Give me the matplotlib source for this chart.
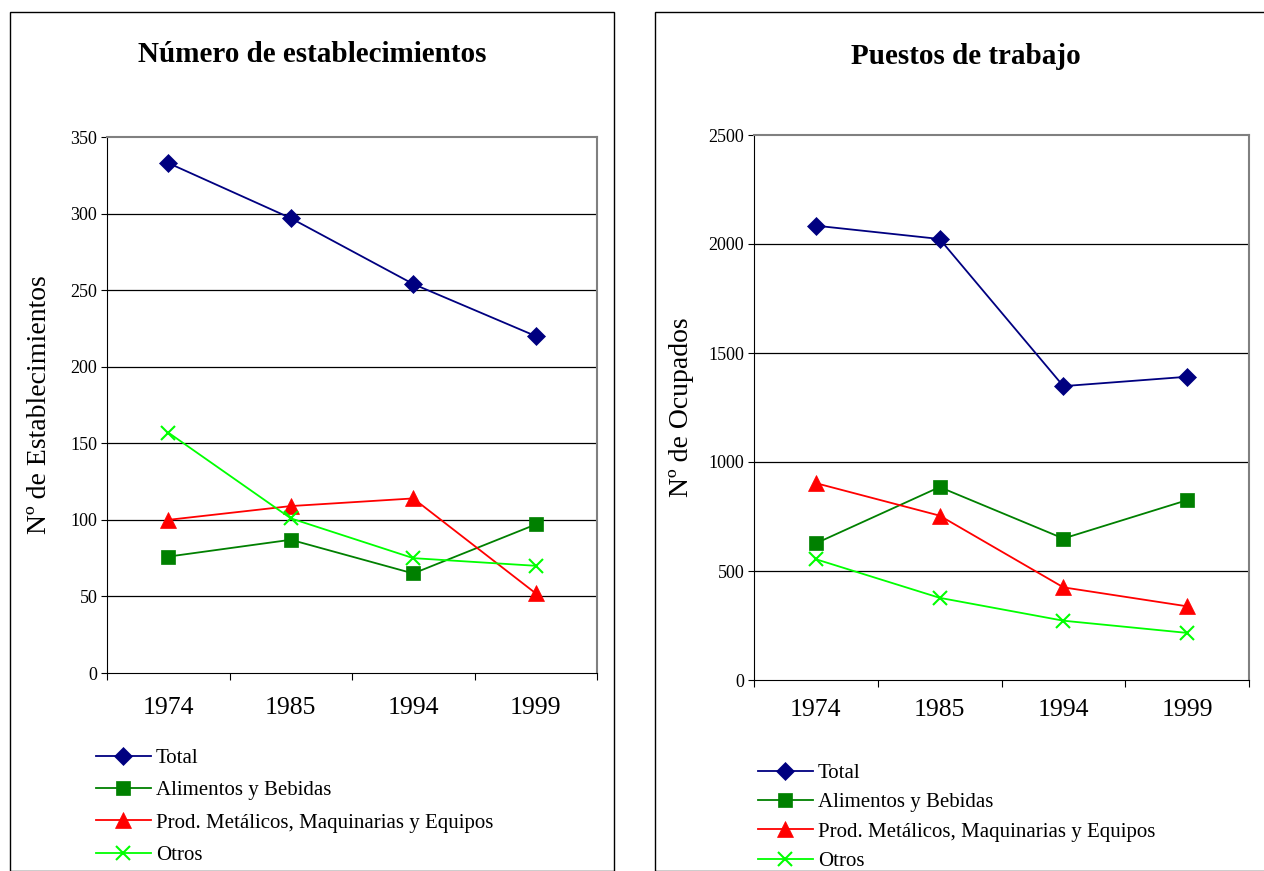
import matplotlib
matplotlib.use("Agg")
import matplotlib.pyplot as plt
from matplotlib.patches import Rectangle

plt.rcParams['font.family'] = ['Liberation Serif', 'DejaVu Serif']

# data
years = ['1974', '1985', '1994', '1999']
series = ['Total', 'Alimentos y Bebidas', 'Prod. Metálicos, Maquinarias y Equipos', 'Otros']

estab_total = [333, 297, 254, 220]
estab_alim = [76, 87, 65, 97]
estab_prod = [100, 109, 114, 52]
estab_otros = [157, 101, 75, 70]

ocup_total = [2084, 2023, 1348, 1391]
ocup_alim = [627, 885, 649, 825]
ocup_prod = [903, 754, 425, 338]
ocup_otros = [554, 377, 272, 216]

colors = ['#000080', '#008000', '#FF0000', '#00FF00']
markers = ['D', 's', '^', 'x']
msizes = [9, 10, 11, 10]

W, H = 1264, 871
fig = plt.figure(figsize=(W / 100, H / 100), dpi=100)

# panel frames
for x0, x1 in [(10, 614), (655, 1275)]:
    fig.patches.append(Rectangle((x0 / W, 0), (x1 - x0) / W, (H - 12) / H,
                                 transform=fig.transFigure, fill=False,
                                 edgecolor='black', linewidth=1.0))


def panel(rect, data, ymax, step, title, ylabel, title_xy, ylabel_x, xpad,
          leg_anchor, leg_space):
    ax = fig.add_axes(rect)
    x = list(range(len(years)))
    lines = []
    for vals, c, m, ms in zip(data, colors, markers, msizes):
        ln, = ax.plot(x, vals, color=c, marker=m, markersize=ms, linewidth=1.3,
                      markeredgewidth=1.5 if m == 'x' else 0.5, markeredgecolor=c,
                      clip_on=False, zorder=3)
        lines.append(ln)
    ax.set_xlim(-0.5, len(years) - 0.5)
    ax.set_ylim(0, ymax)
    ax.set_yticks(range(0, ymax + 1, step))
    ax.tick_params(axis='y', labelsize=13, length=4, direction='out', pad=3)
    ax.set_xticks([i - 0.5 for i in range(len(years) + 1)])
    ax.set_xticklabels([])
    ax.set_xticks(x, minor=True)
    ax.set_xticklabels(years, minor=True, fontsize=18.5)
    ax.tick_params(axis='x', which='major', length=5, direction='out')
    ax.tick_params(axis='x', which='minor', length=0, pad=xpad)
    for t in range(step, ymax, step):
        ax.axhline(t, color='black', linewidth=0.9, zorder=1)
    ax.spines['top'].set_color('#808080')
    ax.spines['right'].set_color('#808080')
    ax.spines['top'].set_linewidth(1.5)
    ax.spines['right'].set_linewidth(1.5)
    fig.text(title_xy[0], title_xy[1], title, ha='center', va='center',
             fontsize=21, fontweight='bold')
    fig.text(ylabel_x, rect[1] + rect[3] / 2, ylabel, ha='center', va='center',
             rotation=90, fontsize=20)
    fig.legend(lines, series, loc='upper left', bbox_to_anchor=leg_anchor,
               frameon=False, fontsize=15, handlelength=2.6, handletextpad=0.25,
               labelspacing=leg_space, borderaxespad=0)
    return ax


panel([107 / W, (H - 673) / H, (597 - 107) / W, (673 - 137) / H],
      [estab_total, estab_alim, estab_prod, estab_otros], 350, 50,
      'Número de establecimientos', 'Nº de Establecimientos',
      (312 / W, 1 - 55 / H), 40 / W, 17, (88 / W, 1 - 740 / H), 0.61)

panel([754 / W, (H - 680) / H, (1249 - 754) / W, (680 - 135) / H],
      [ocup_total, ocup_alim, ocup_prod, ocup_otros], 2500, 500,
      'Puestos de trabajo', 'Nº de Ocupados',
      (966 / W, 1 - 57 / H), 681 / W, 14, (750 / W, 1 - 755 / H), 0.47)

fig.savefig('out.png', dpi=100)
